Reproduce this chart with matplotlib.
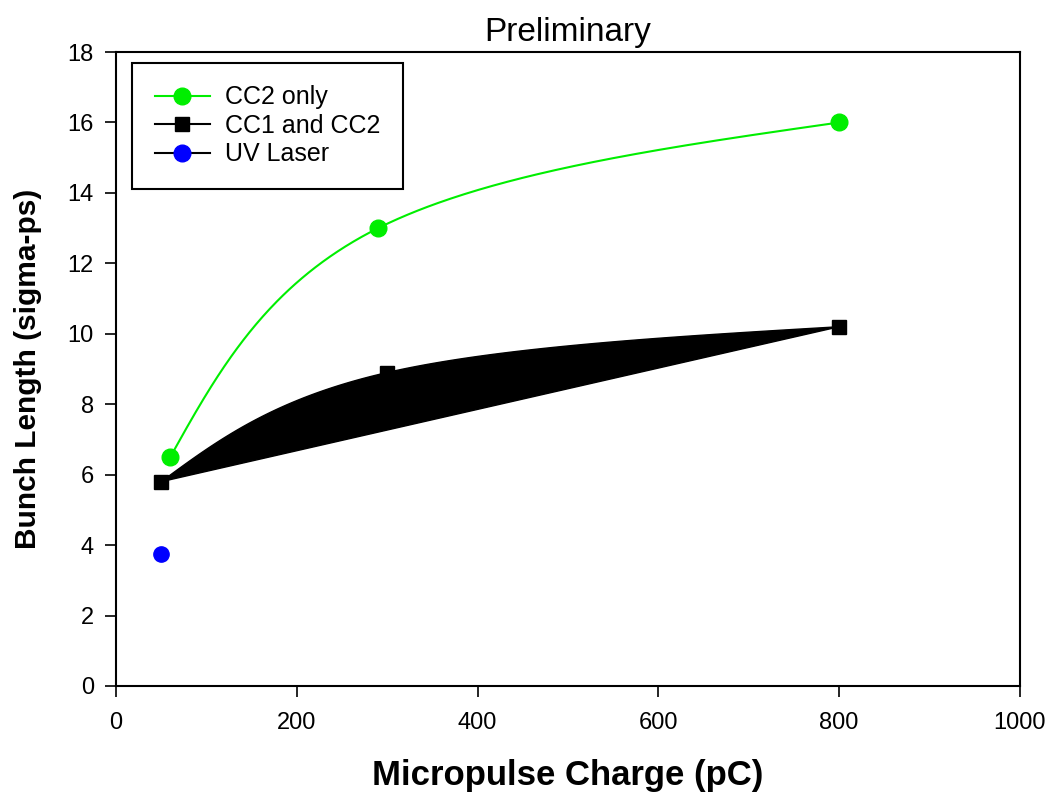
import numpy as np
import matplotlib.pyplot as plt

plt.rcParams['font.family'] = ['Liberation Sans', 'DejaVu Sans']

# data
cc2_x = [60, 290, 800]
cc2_y = [6.5, 13.0, 16.0]
both_x = [50, 300, 800]
both_y = [5.8, 8.9, 10.2]
uv_x = [50]
uv_y = [3.75]


def natural_1d(t, v, ts):
    # natural cubic spline of v over t, evaluated at ts
    k = len(t)
    h = np.diff(t)
    A = np.zeros((k, k))
    b = np.zeros(k)
    A[0, 0] = A[-1, -1] = 1
    for i in range(1, k - 1):
        A[i, i - 1] = h[i - 1]
        A[i, i] = 2 * (h[i - 1] + h[i])
        A[i, i + 1] = h[i]
        b[i] = 6 * ((v[i + 1] - v[i]) / h[i] - (v[i] - v[i - 1]) / h[i - 1])
    M = np.linalg.solve(A, b)
    out = np.empty_like(ts)
    for j, s in enumerate(ts):
        i = min(np.searchsorted(t, s, side='right') - 1, k - 2)
        d1 = t[i + 1] - s
        d0 = s - t[i]
        out[j] = (M[i] * d1 ** 3 + M[i + 1] * d0 ** 3) / (6 * h[i]) \
            + (v[i] / h[i] - M[i] * h[i] / 6) * d1 \
            + (v[i + 1] / h[i] - M[i + 1] * h[i] / 6) * d0
    return out


def smooth(x, y, n=300):
    # parametric spline, uniform parameter per point
    x = np.asarray(x, float)
    y = np.asarray(y, float)
    t = np.arange(len(x), dtype=float)
    ts = np.linspace(0, t[-1], n)
    return natural_1d(t, x, ts), natural_1d(t, y, ts)


fig = plt.figure(figsize=(10.5, 7.98), dpi=100)
ax = fig.add_axes([0.1105, 0.1404, 0.8609, 0.7944])

gx, gy = smooth(cc2_x, cc2_y)
ax.plot(gx, gy, color='#00ee00', lw=1.5)
ax.plot(cc2_x, cc2_y, 'o', color='#00ee00', ms=12)

bx, by = smooth(both_x, both_y)
ax.fill(bx, by, color='black', lw=1)
ax.plot(both_x, both_y, 's', color='black', ms=10)

ax.plot(uv_x, uv_y, 'o', color='blue', ms=11)

# legend handles
h1, = ax.plot([], [], '-o', color='#00ee00', ms=12, lw=1.5)
h2, = ax.plot([], [], '-s', color='black', mfc='black', ms=10, lw=1.5)
h3, = ax.plot([], [], '-o', color='black', mfc='blue', mec='blue', ms=12, lw=1.5)
leg = ax.legend([h1, h2, h3], ['CC2 only', 'CC1 and CC2', 'UV Laser'],
                loc='upper left', bbox_to_anchor=(0.018, 0.983), fontsize=18,
                fancybox=False, framealpha=1, edgecolor='black',
                handlelength=2.2, borderpad=0.9, labelspacing=0.18,
                handletextpad=0.6, borderaxespad=0)
leg.get_frame().set_linewidth(1.5)

ax.set_xlim(0, 1000)
ax.set_ylim(0, 18)
ax.set_xticks(np.arange(0, 1001, 200))
ax.set_yticks(np.arange(0, 19, 2))
ax.tick_params(direction='out', length=8, width=1.2, labelsize=17)
ax.tick_params(axis='x', pad=11)
ax.tick_params(axis='y', pad=8)
for s in ax.spines.values():
    s.set_linewidth(1.5)

ax.set_title('Preliminary', fontsize=24, pad=8)
ax.set_xlabel('Micropulse Charge (pC)', fontsize=25, fontweight='bold', labelpad=18)
ax.set_ylabel('Bunch Length (sigma-ps)', fontsize=21.5, fontweight='bold', labelpad=18)

fig.savefig('out.png', dpi=100)
